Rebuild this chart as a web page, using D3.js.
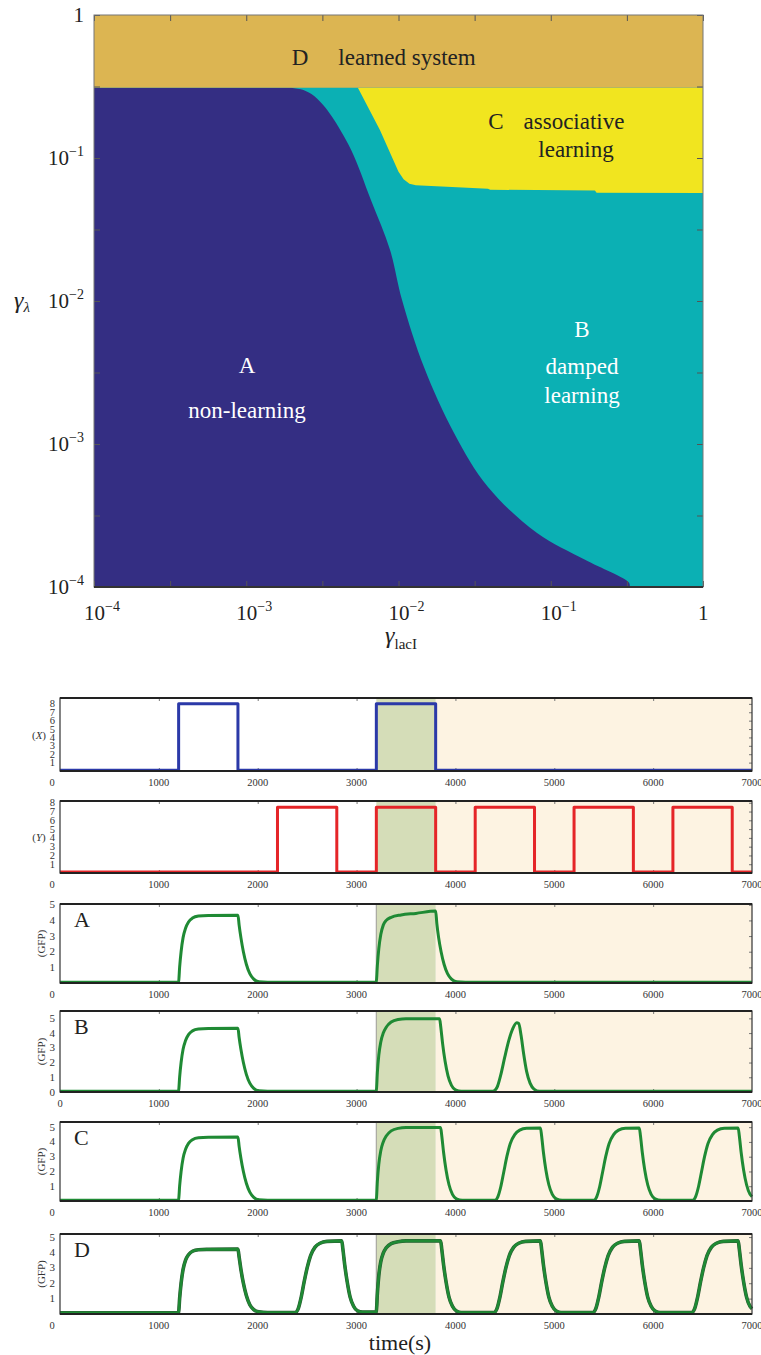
<!DOCTYPE html>
<html>
<head>
<meta charset="utf-8">
<script src="https://cdn.jsdelivr.net/npm/d3@7"></script>
<style>
  body { margin: 0; background: #fff; }
  svg, svg text { font-family: "Liberation Serif", "DejaVu Serif", serif; }
</style>
</head>
<body>
<div id="chart"></div>
<script>
// ### DATA ###
// Phase diagram: regions in the (gamma_lacI, gamma_lambda) plane
const decadeTicks = [1e-4, 1e-3, 1e-2, 1e-1, 1];
const decadeExps = ['−4', '−3', '−2', '−1', ''];
const learnedLambda = 0.31;   // lower edge of region D
// boundary between A (non-learning) and B (damped learning)
const abLacI   = [0.00194, 0.00228, 0.00268, 0.00320, 0.00366, 0.00488, 0.00659, 0.00879, 0.01054, 0.0147, 0.0232, 0.0387, 0.0813, 0.168, 0.327, 0.33];
const abLambda = [0.31, 0.302, 0.280, 0.235, 0.194, 0.114, 0.0508, 0.0228, 0.0102, 0.00345, 0.00119, 0.0005, 0.000239, 0.000155, 0.000107, 0.0001];
// lower-left boundary of C (associative learning)
const cLacI   = [0.00541, 0.00755, 0.0100, 0.0108, 0.0118, 0.0130, 0.0387, 0.0400, 0.195, 0.200, 1];
const cLambda = [0.31, 0.157, 0.080, 0.071, 0.0660, 0.0645, 0.0610, 0.0600, 0.0592, 0.0572, 0.0569];

// Time courses
const timeTicks = [0, 1000, 2000, 3000, 4000, 5000, 6000, 7000];
const pairedWindow = [3200, 3800];
const testWindow = [3800, 7000];
const signalX = [[0, 0.1], [1200, 0.1], [1200, 8], [1800, 8], [1800, 0.1], [3200, 0.1], [3200, 8], [3800, 8], [3800, 0.1], [7000, 0.1]];
const signalY = [[0, 0.1], [2200, 0.1], [2200, 7.5], [2800, 7.5], [2800, 0.1], [3200, 0.1], [3200, 7.5], [3800, 7.5], [3800, 0.1],
  [4200, 0.1], [4200, 7.5], [4800, 7.5], [4800, 0.1], [5200, 0.1], [5200, 7.5], [5800, 7.5], [5800, 0.1],
  [6200, 0.1], [6200, 7.5], [6800, 7.5], [6800, 0.1], [7000, 0.1]];
const gfpA = [[0, 0.05], [1190, 0.05], [1200, 0.1], [1210, 1.0], [1225, 2.0], [1245, 2.9], [1270, 3.5], [1300, 3.9], [1340, 4.15], [1400, 4.28], [1500, 4.32], [1800, 4.33],
  [1812, 3.7], [1830, 2.9], [1855, 2.0], [1885, 1.2], [1920, 0.6], [1960, 0.25], [2010, 0.08], [2100, 0.05], [3190, 0.05], [3200, 0.1], [3210, 1.1], [3225, 2.2],
  [3245, 3.1], [3270, 3.7], [3300, 4.0], [3350, 4.2], [3450, 4.35], [3600, 4.45], [3800, 4.6], [3812, 3.8], [3830, 2.9], [3855, 2.0], [3885, 1.2], [3920, 0.6],
  [3960, 0.25], [4010, 0.08], [4100, 0.05], [7000, 0.05]];
const gfpB = [[0, 0.05], [1190, 0.05], [1200, 0.1], [1210, 1.0], [1225, 2.0], [1245, 2.9], [1270, 3.5], [1300, 3.9], [1340, 4.15], [1400, 4.28], [1500, 4.32], [1800, 4.33],
  [1812, 3.7], [1830, 2.9], [1855, 2.0], [1885, 1.2], [1920, 0.6], [1960, 0.25], [2010, 0.08], [2100, 0.05], [3190, 0.05], [3200, 0.1], [3210, 1.3], [3225, 2.5],
  [3245, 3.4], [3270, 4.0], [3300, 4.4], [3350, 4.75], [3420, 4.92], [3500, 4.97], [3840, 4.97], [3852, 4.4], [3870, 3.3], [3895, 2.1], [3925, 1.1], [3960, 0.45],
  [4000, 0.15], [4060, 0.05], [4380, 0.05], [4420, 0.3], [4460, 1.2], [4500, 2.4], [4540, 3.5], [4580, 4.3], [4620, 4.7], [4640, 4.65], [4665, 3.8], [4690, 2.6],
  [4720, 1.4], [4755, 0.6], [4795, 0.2], [4850, 0.05], [7000, 0.05]];
const gfpC = [[0, 0.05], [1190, 0.05], [1200, 0.1], [1210, 1.0], [1225, 2.0], [1245, 2.9], [1270, 3.5], [1300, 3.9], [1340, 4.15], [1400, 4.28], [1500, 4.32], [1800, 4.33],
  [1812, 3.7], [1830, 2.9], [1855, 2.0], [1885, 1.2], [1920, 0.6], [1960, 0.25], [2010, 0.08], [2100, 0.05], [3190, 0.05], [3200, 0.1], [3210, 1.3], [3225, 2.5],
  [3245, 3.4], [3270, 4.0], [3300, 4.4], [3350, 4.75], [3420, 4.92], [3500, 4.97], [3850, 4.97], [3862, 4.4], [3880, 3.3], [3905, 2.1], [3935, 1.1], [3970, 0.45],
  [4010, 0.15], [4070, 0.05], [4400, 0.05], [4430, 0.3], [4460, 1.0], [4490, 2.0], [4520, 3.0], [4555, 3.9], [4600, 4.5], [4650, 4.8], [4720, 4.93], [4860, 4.95],
  [4872, 4.4], [4890, 3.3], [4915, 2.1], [4945, 1.1], [4980, 0.45], [5020, 0.15], [5080, 0.05], [5400, 0.05], [5430, 0.3], [5460, 1.0], [5490, 2.0], [5520, 3.0],
  [5555, 3.9], [5600, 4.5], [5650, 4.8], [5720, 4.93], [5860, 4.95], [5872, 4.4], [5890, 3.3], [5915, 2.1], [5945, 1.1], [5980, 0.45], [6020, 0.15], [6080, 0.05],
  [6400, 0.05], [6430, 0.3], [6460, 1.0], [6490, 2.0], [6520, 3.0], [6555, 3.9], [6600, 4.5], [6650, 4.8], [6720, 4.93], [6860, 4.95], [6872, 4.4], [6890, 3.3],
  [6915, 2.1], [6945, 1.1], [6980, 0.45], [7000, 0.3]];
const gfpD = [[0, 0.08], [1190, 0.08], [1200, 0.12], [1210, 1.0], [1225, 2.0], [1245, 2.9], [1270, 3.5], [1300, 3.85], [1340, 4.08], [1400, 4.18], [1500, 4.2], [1800, 4.22],
  [1812, 3.7], [1830, 2.9], [1855, 2.0], [1885, 1.2], [1920, 0.6], [1960, 0.28], [2010, 0.14], [2100, 0.1], [2380, 0.1], [2410, 0.35], [2440, 1.1], [2470, 2.1],
  [2500, 3.0], [2535, 3.8], [2580, 4.35], [2630, 4.6], [2700, 4.72], [2850, 4.75], [2862, 4.2], [2880, 3.2], [2905, 2.1], [2935, 1.1], [2970, 0.5], [3010, 0.2],
  [3060, 0.12], [3190, 0.12], [3200, 0.15], [3210, 1.3], [3225, 2.5], [3245, 3.4], [3270, 3.95], [3300, 4.3], [3350, 4.58], [3420, 4.7], [3500, 4.75], [3850, 4.75],
  [3862, 4.2], [3880, 3.2], [3905, 2.1], [3935, 1.1], [3970, 0.5], [4010, 0.2], [4060, 0.1], [4390, 0.1], [4420, 0.35], [4450, 1.1], [4480, 2.1], [4510, 3.0],
  [4545, 3.8], [4590, 4.35], [4640, 4.6], [4710, 4.72], [4860, 4.75], [4872, 4.2], [4890, 3.2], [4915, 2.1], [4945, 1.1], [4980, 0.5], [5020, 0.2], [5070, 0.1],
  [5390, 0.1], [5420, 0.35], [5450, 1.1], [5480, 2.1], [5510, 3.0], [5545, 3.8], [5590, 4.35], [5640, 4.6], [5710, 4.72], [5860, 4.75], [5872, 4.2], [5890, 3.2],
  [5915, 2.1], [5945, 1.1], [5980, 0.5], [6020, 0.2], [6070, 0.1], [6390, 0.1], [6420, 0.35], [6450, 1.1], [6480, 2.1], [6510, 3.0], [6545, 3.8], [6590, 4.35],
  [6640, 4.6], [6710, 4.72], [6860, 4.75], [6872, 4.2], [6890, 3.2], [6915, 2.1], [6945, 1.1], [6980, 0.5], [7000, 0.35]];

// ### SVG ###
const W = 761, H = 1355;
const serif = '"Liberation Serif", "DejaVu Serif", serif';
const svg = d3.select('#chart').append('svg')
  .attr('width', W).attr('height', H)
  .attr('font-family', serif)
  .style('background', '#fff');

// ### PHASE DIAGRAM ###
const pd = { left: 94, right: 703, top: 15, bottom: 587 };
const xLog = d3.scaleLog().domain([1e-4, 1]).range([pd.left, pd.right]);
const yLog = d3.scaleLog().domain([1e-4, 1]).range([pd.bottom, pd.top]);

const colB = '#0bb0b4', colA = '#342e83', colC = '#f1e51f', colD = '#dcb552';
const line = d3.line().x(d => xLog(d[0])).y(d => yLog(d[1]));

// B fills the whole plot, others drawn on top
svg.append('rect')
  .attr('x', pd.left).attr('y', pd.top)
  .attr('width', pd.right - pd.left).attr('height', pd.bottom - pd.top)
  .attr('fill', colB);

//>>> A polygon: left edge, top edge at D, then down the smoothed boundary
const abPts = abLacI.map((v, i) => [v, abLambda[i]]);
const abPath = line.curve(d3.curveCatmullRom.alpha(0.5))(abPts);
svg.append('path')
  .attr('d', `M${xLog(1e-4)},${yLog(1e-4)}L${xLog(1e-4)},${yLog(learnedLambda)}L` + abPath.slice(1) + 'Z')
  .attr('fill', colA);

//>>> C polygon
const cPts = cLacI.map((v, i) => [v, cLambda[i]]);
const cPath = line.curve(d3.curveLinear)(cPts);
svg.append('path')
  .attr('d', cPath + `L${xLog(1)},${yLog(learnedLambda)}Z`)
  .attr('fill', colC);

//>>> D band
svg.append('rect')
  .attr('x', pd.left).attr('y', pd.top)
  .attr('width', pd.right - pd.left).attr('height', yLog(learnedLambda) - pd.top)
  .attr('fill', colD);

//>>> frame + inward ticks at half decades
const halfDecades = d3.range(-4, 0.01, 0.5).map(e => Math.pow(10, e));
const tk = 6;
const frameTicks = svg.append('g');
frameTicks.append('g').attr('transform', `translate(0,${pd.bottom})`)
  .call(d3.axisTop(xLog).tickValues(halfDecades).tickSize(tk).tickFormat(''));
frameTicks.append('g').attr('transform', `translate(0,${pd.top})`)
  .call(d3.axisBottom(xLog).tickValues(halfDecades).tickSize(tk).tickFormat(''));
frameTicks.append('g').attr('transform', `translate(${pd.left},0)`)
  .call(d3.axisRight(yLog).tickValues(halfDecades).tickSize(tk).tickFormat(''));
frameTicks.append('g').attr('transform', `translate(${pd.right},0)`)
  .call(d3.axisLeft(yLog).tickValues(halfDecades).tickSize(tk).tickFormat(''));
frameTicks.selectAll('.domain').remove();
frameTicks.selectAll('.tick line').attr('stroke', '#555').attr('stroke-width', 1);
svg.append('rect')
  .attr('x', pd.left).attr('y', pd.top)
  .attr('width', pd.right - pd.left).attr('height', pd.bottom - pd.top)
  .attr('fill', 'none').attr('stroke', '#777').attr('stroke-width', 1);
svg.append('line')
  .attr('x1', pd.left).attr('x2', pd.right).attr('y1', pd.bottom).attr('y2', pd.bottom)
  .attr('stroke', '#333').attr('stroke-width', 2);

//>>> tick labels with superscripts
const xLab = svg.append('g').selectAll('text').data(decadeTicks).enter().append('text')
  .attr('x', d => d === 1 ? xLog(d) - 5 : xLog(d) - 10)
  .attr('y', 620)
  .attr('font-family', serif)
  .style('font-size', '21px').attr('fill', '#222');
xLab.append('tspan').text(d => d === 1 ? '1' : '10');
xLab.append('tspan').text((d, i) => decadeExps[i]).attr('dy', -9).style('font-size', '14px');

const yLab = svg.append('g').selectAll('text').data(decadeTicks).enter().append('text')
  .attr('x', 84)
  .attr('y', d => yLog(d) + 7)
  .attr('text-anchor', 'end')
  .attr('font-family', serif)
  .style('font-size', '21px').attr('fill', '#222');
yLab.append('tspan').text(d => d === 1 ? '1' : '10');
yLab.append('tspan').text((d, i) => decadeExps[i]).attr('dy', -9).style('font-size', '14px');

//>>> axis titles
const yTitle = svg.append('text').attr('x', 14).attr('y', 308).attr('fill', '#222').attr('font-family', serif);
yTitle.append('tspan').text('γ').style('font-size', '24px').style('font-style', 'italic');
yTitle.append('tspan').text('λ').attr('dy', 4).style('font-size', '15px').style('font-style', 'italic');

const xTitle = svg.append('text').attr('x', 385).attr('y', 643).attr('fill', '#222').attr('font-family', serif);
xTitle.append('tspan').text('γ').style('font-size', '24px').style('font-style', 'italic');
xTitle.append('tspan').text('lacI').attr('dy', 6).style('font-size', '15px');

//>>> region labels
function regionText(txt, x, y, color) {
  svg.append('text').attr('x', x).attr('y', y)
    .attr('text-anchor', 'middle').attr('font-family', serif)
    .attr('fill', color).style('font-size', '23px').text(txt);
}
regionText('D', 300, 65, '#222');
regionText('learned system', 407, 65, '#222');
regionText('C', 496, 129, '#222');
regionText('associative', 574, 129, '#222');
regionText('learning', 576, 157, '#222');
regionText('A', 247, 373, '#fff');
regionText('non-learning', 247, 418, '#fff');
regionText('B', 582, 337, '#fff');
regionText('damped', 582, 374, '#fff');
regionText('learning', 582, 403, '#fff');

// ### TIME COURSE PANELS ###
const tx = d3.scaleLinear().domain([0, 7000]).range([60, 752]);
const green = '#1f8a34';
const panels = [
  { data: signalX, top: 698, bottom: 771, ymax: 8.7, yt: d3.range(1, 9), color: '#2b39a8', label: '(X)', letter: null },
  { data: signalY, top: 801, bottom: 873, ymax: 8.2, yt: d3.range(1, 9), color: '#e52528', label: '(Y)', letter: null },
  { data: gfpA, top: 904, bottom: 983, ymax: 5.05, yt: [1, 2, 3, 4, 5], color: green, label: '(GFP)', letter: 'A' },
  { data: gfpB, top: 1011, bottom: 1092, ymax: 5.5, yt: [0, 1, 2, 3, 4, 5], color: green, label: '(GFP)', letter: 'B' },
  { data: gfpC, top: 1122, bottom: 1201, ymax: 5.35, yt: [1, 2, 3, 4, 5], color: green, label: '(GFP)', letter: 'C' },
  { data: gfpD, top: 1234, bottom: 1314, ymax: 5.2, yt: [1, 2, 3, 4, 5], color: green, label: '(GFP)', letter: 'D', under: true }
];

panels.forEach(p => {
  const y = d3.scaleLinear().domain([0, p.ymax]).range([p.bottom, p.top]);
  const g = svg.append('g');
  const h = p.bottom - p.top;

  //>>> shaded windows
  g.append('rect').attr('x', tx(testWindow[0])).attr('y', p.top)
    .attr('width', tx(testWindow[1]) - tx(testWindow[0])).attr('height', h).attr('fill', '#fdf3e2');
  g.append('rect').attr('x', tx(pairedWindow[0])).attr('y', p.top)
    .attr('width', tx(pairedWindow[1]) - tx(pairedWindow[0])).attr('height', h).attr('fill', '#d5ddb8');
  if (p.label === '(GFP)') {
    g.append('line').attr('x1', tx(pairedWindow[0])).attr('x2', tx(pairedWindow[0]))
      .attr('y1', p.top).attr('y2', p.bottom).attr('stroke', '#a8a8a0').attr('stroke-width', 1.2);
  }

  //>>> inward ticks
  const ax = g.append('g');
  ax.append('g').attr('transform', `translate(0,${p.top})`)
    .call(d3.axisBottom(tx).tickValues(timeTicks.slice(1, -1)).tickSize(3).tickFormat(''));
  ax.append('g').attr('transform', `translate(0,${p.bottom})`)
    .call(d3.axisTop(tx).tickValues(timeTicks.slice(1, -1)).tickSize(3).tickFormat(''));
  ax.append('g').attr('transform', `translate(${tx(7000)},0)`)
    .call(d3.axisLeft(y).tickValues(p.yt.filter(v => v > 0)).tickSize(3).tickFormat(''));
  ax.selectAll('.domain').remove();
  ax.selectAll('.tick line').attr('stroke', '#777');

  //>>> curve
  const ln = d3.line().x(d => tx(d[0])).y(d => y(d[1]))
    .curve(p.label === '(GFP)' ? d3.curveMonotoneX : d3.curveLinear);
  if (p.under) {
    g.append('path').attr('d', ln(p.data)).attr('fill', 'none')
      .attr('stroke', '#2c5a33').attr('stroke-width', 3.6).attr('stroke-linejoin', 'round');
  }
  g.append('path').attr('d', ln(p.data)).attr('fill', 'none')
    .attr('stroke', p.color).attr('stroke-width', p.under ? 2.6 : 3)
    .attr('stroke-linejoin', 'round');

  //>>> frame
  g.append('rect').attr('x', tx(0)).attr('y', p.top).attr('width', tx(7000) - tx(0)).attr('height', h)
    .attr('fill', 'none').attr('stroke', '#333').attr('stroke-width', 1.2);
  g.append('line').attr('x1', tx(0)).attr('x2', tx(7000)).attr('y1', p.top).attr('y2', p.top)
    .attr('stroke', '#222').attr('stroke-width', 2);
  g.append('line').attr('x1', tx(0)).attr('x2', tx(7000)).attr('y1', p.bottom).attr('y2', p.bottom)
    .attr('stroke', '#222').attr('stroke-width', 2);

  //>>> x tick labels
  g.selectAll('.xt').data(timeTicks).enter().append('text')
    .attr('x', d => (d === 0 && p.letter !== 'B') ? tx(d) - 8 : tx(d))
    .attr('y', p.bottom + 15)
    .attr('text-anchor', 'middle').attr('font-family', serif)
    .style('font-size', '10.5px').attr('fill', '#333')
    .text(d => d);

  //>>> y tick labels
  g.selectAll('.yt').data(p.yt).enter().append('text')
    .attr('x', 55).attr('y', d => y(d) + 3.5)
    .attr('text-anchor', 'end').attr('font-family', serif)
    .style('font-size', p.yt.length > 6 ? '10.5px' : '11px').attr('fill', '#333')
    .text(d => d);

  //>>> y label
  const mid = (p.top + p.bottom) / 2;
  if (p.label === '(GFP)') {
    g.append('text').attr('transform', `translate(45,${mid}) rotate(-90)`)
      .attr('text-anchor', 'middle').attr('font-family', serif)
      .style('font-size', '11px').attr('fill', '#333').text('(GFP)');
  } else {
    const t = g.append('text').attr('x', 39).attr('y', mid + 4).attr('text-anchor', 'middle')
      .attr('font-family', serif).style('font-size', '11px').attr('fill', '#333');
    t.append('tspan').text('(');
    t.append('tspan').text(p.label[1]).style('font-style', 'italic');
    t.append('tspan').text(')');
  }

  //>>> panel letter
  if (p.letter) {
    g.append('text').attr('x', 74).attr('y', p.top + 23).attr('font-family', serif)
      .style('font-size', '22px').attr('fill', '#222').text(p.letter);
  }
});

svg.append('text').attr('x', 400).attr('y', 1350).attr('text-anchor', 'middle').attr('font-family', serif)
  .style('font-size', '22px').attr('fill', '#222').text('time(s)');
</script>
</body>
</html>
